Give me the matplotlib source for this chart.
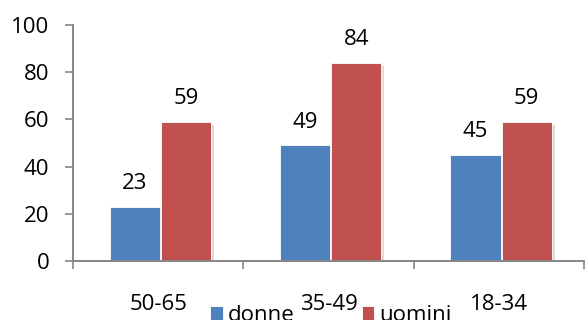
import matplotlib
matplotlib.use("Agg")
import matplotlib.pyplot as plt
import matplotlib.patheffects as pe
import numpy as np

categories = ["50-65", "35-49", "18-34"]
donne = [23, 49, 45]
uomini = [59, 84, 59]
series_names = ["donne", "uomini"]
yticks = [0, 20, 40, 60, 80, 100]

plt.rcParams['font.family'] = ['Open Sans', 'DejaVu Sans']

fig = plt.figure(figsize=(5.86, 3.2), dpi=100)
ax = fig.add_axes([0.1246, 0.1844, 0.872, 0.7375])

x = np.arange(len(categories))
w = 0.295
shadow = [pe.SimplePatchShadow(offset=(2, -2), shadow_rgbFace='#999999', alpha=0.35), pe.Normal()]
b1 = ax.bar(x - w/2 + 0.01, donne, w, color='#4F81BD', edgecolor='white', linewidth=0.6,
            label=series_names[0], path_effects=shadow)
b2 = ax.bar(x + w/2 + 0.016, uomini, w, color='#C0504D', edgecolor='white', linewidth=0.6,
            label=series_names[1], path_effects=shadow)

for bars, vals in ((b1, donne), (b2, uomini)):
    for r, v in zip(bars, vals):
        ax.annotate(str(v), (r.get_x() + r.get_width()/2, v), xytext=(0, 9),
                    textcoords='offset points', ha='center', va='bottom', fontsize=16)

ax.set_xlim(-0.5, 2.5)
ax.set_ylim(0, 100)
ax.set_yticks(yticks)
ax.set_yticklabels([str(t) for t in yticks], fontsize=16)
ax.set_xticks(x)
ax.set_xticklabels(categories, fontsize=16)
ax.tick_params(axis='x', length=0, pad=23.5)
ax.tick_params(axis='y', length=6, width=1.2, color='#868686', pad=11)
ax.set_xticks([-0.5, 0.5, 1.5, 2.5], minor=True)
ax.tick_params(axis='x', which='minor', length=6, width=1.2, color='#868686')

for s in ['top', 'right']:
    ax.spines[s].set_visible(False)
for s in ['left', 'bottom']:
    ax.spines[s].set_color('#868686')
    ax.spines[s].set_linewidth(1.4)

leg = fig.legend(handles=[b1, b2], labels=series_names, loc='center',
                 bbox_to_anchor=(0.565, 0.014), ncol=2, frameon=False, fontsize=16,
                 handlelength=0.55, handleheight=0.55, handletextpad=0.25, columnspacing=3.0,
                 borderpad=0, borderaxespad=0)
for h in leg.legend_handles:
    h.set_path_effects([])

fig.savefig("out.png", dpi=100)
